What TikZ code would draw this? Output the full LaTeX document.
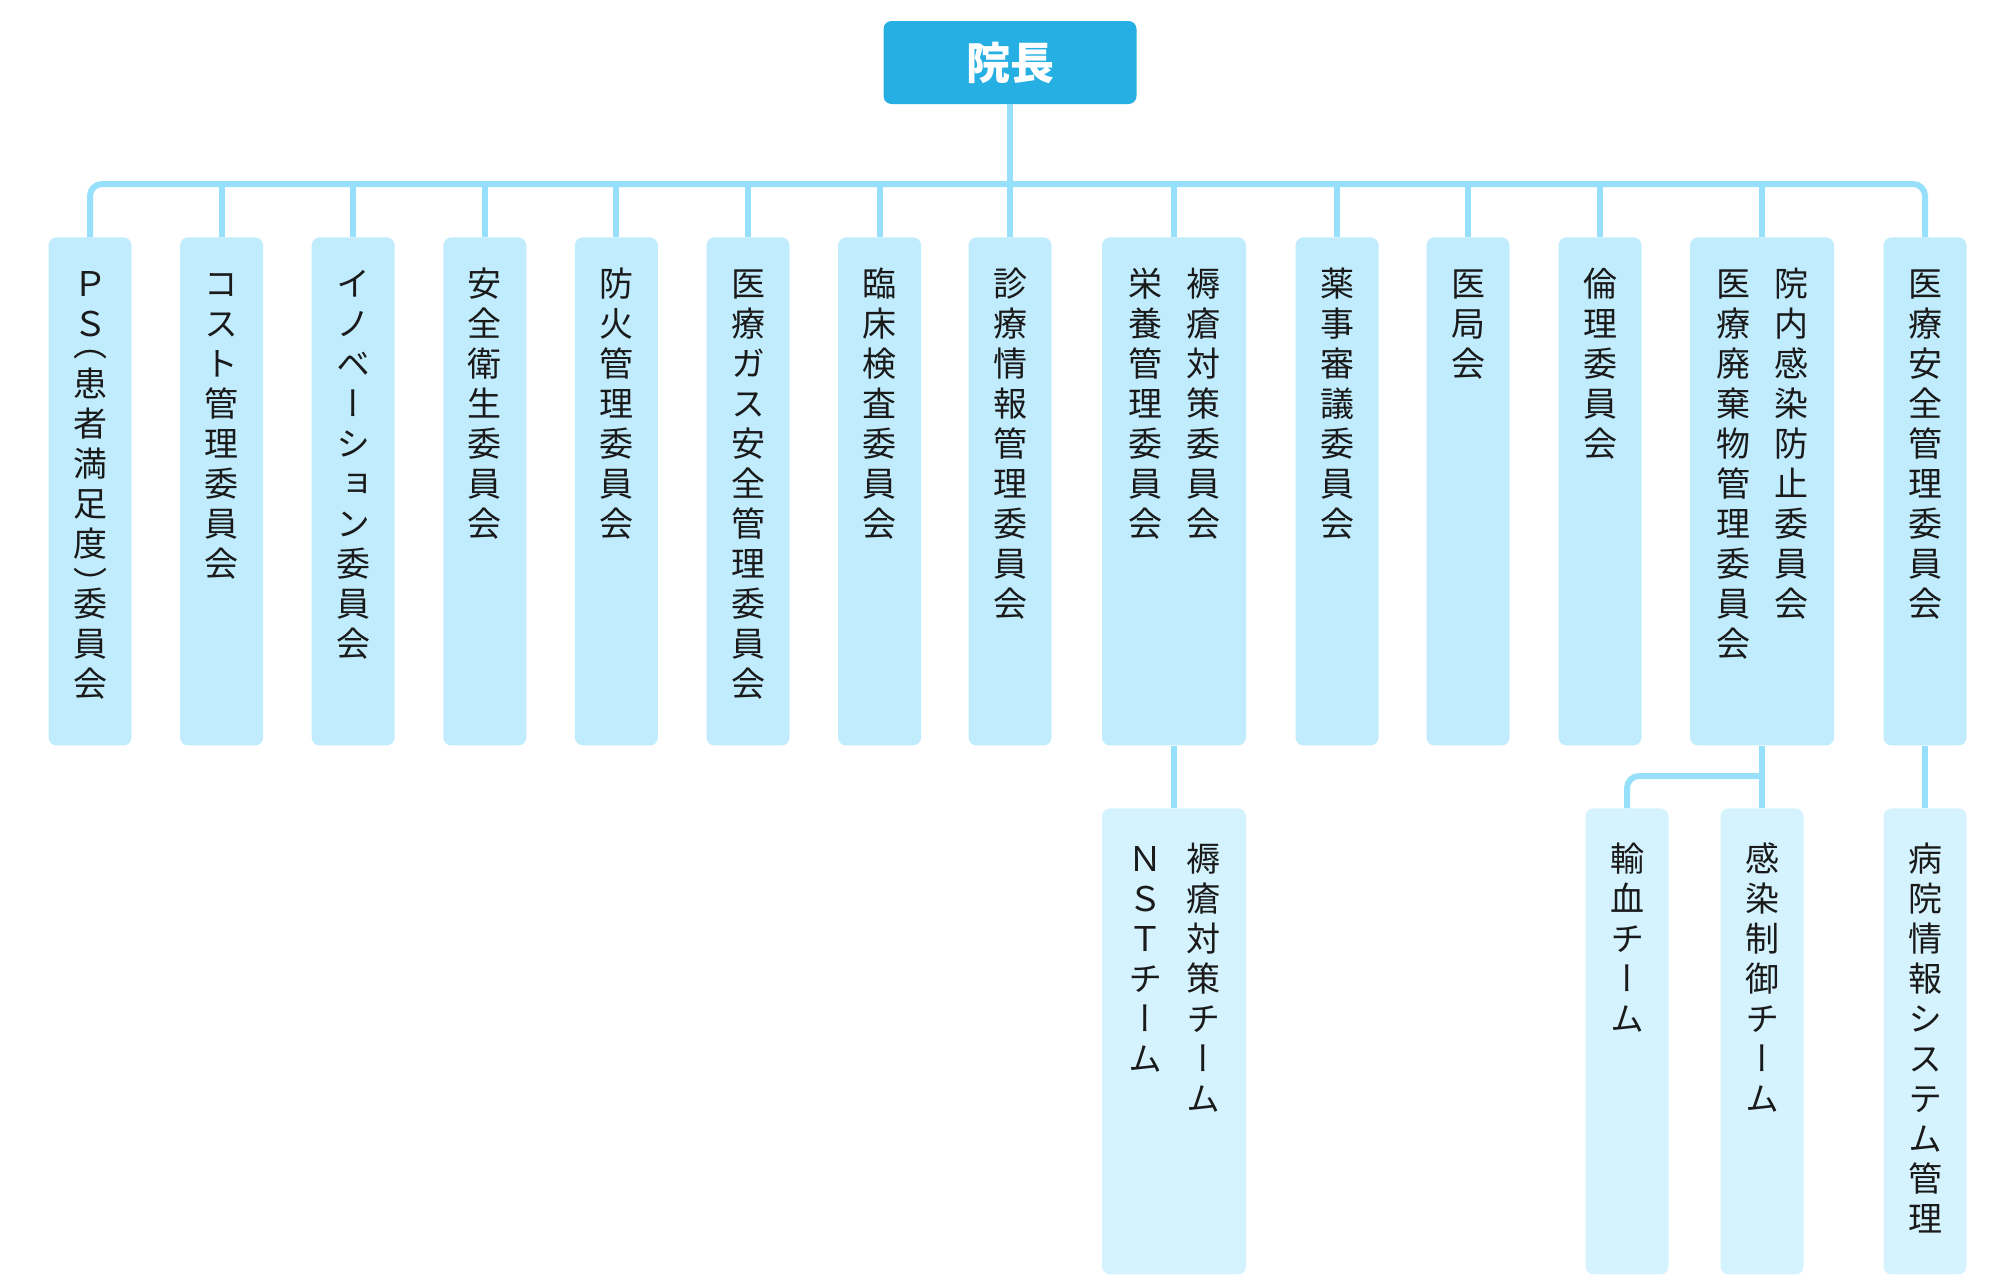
\documentclass[tikz,border=0pt]{standalone}
\usepackage{fontspec}
\usepackage{tikz}
\newfontfamily\jpfont{Noto Sans CJK JP}
\newfontfamily\tatefont[RawFeature=+vert]{Noto Sans CJK JP}

\definecolor{chiefblue}{HTML}{25AFE3}
\definecolor{boxone}{HTML}{C0ECFD}
\definecolor{boxtwo}{HTML}{D4F3FE}
\definecolor{linkblue}{HTML}{96E0FC}
\definecolor{ink}{HTML}{1A1A1A}

% vertical (tate) text: one character per line
\makeatletter
\newcommand\tateopen{}
\newcommand\tateclose{}
\def\tate@o{\tateopen}
\def\tate@k{\tateclose}
\def\tate@put{%
  \ifx\tate@c\tate@o
    \vskip-10pt\hbox to 17pt{\hss（\hss}%
  \else\ifx\tate@c\tate@k
    \hbox to 17pt{\hss）\hss}\vskip-10pt
  \else
    \hbox to 17pt{\hss\tate@c\hss}%
  \fi\fi}
\newcommand\tate[1]{\vtop{\tatefont\fontsize{17pt}{20pt}\selectfont
  \lineskiplimit=-\maxdimen
  \@tfor\tate@c:=#1\do{\tate@put}}}
\makeatother

\tikzset{
  chief/.style={fill=chiefblue,rounded corners=4pt,minimum width=126.5pt,minimum height=41.5pt,
    inner sep=0pt,text=white,font=\jpfont\bfseries\fontsize{22pt}{26pt}\selectfont},
  iinkai/.style={fill=boxone,rounded corners=4pt,minimum width=41.5pt,inner sep=0pt,
    anchor=north,text=ink,text height=29.5pt,text depth=224.5pt},
  wide/.style={minimum width=72pt},
  team/.style={iinkai,fill=boxtwo,text height=31.5pt,text depth=201.5pt},
  link/.style={draw=linkblue,line width=3pt}
}

\begin{document}
\begin{tikzpicture}[x=0.5pt,y=-0.5pt]
\useasboundingbox (0,0) rectangle (2000,1280);
%[top]
\path (1010,62.5) node (inchou) [chief] {院長};
\coordinate (bus) at (1010,184);
%[committees]
\path (90,237) node (ps) [iinkai] {\tate{ＰＳ\tateopen 患者満足度\tateclose 委員会}};
\path (221.6,237) node (cost) [iinkai] {\tate{コスト管理委員会}};
\path (353.2,237) node (innov) [iinkai] {\tate{イノベーション委員会}};
\path (484.8,237) node (eisei) [iinkai] {\tate{安全衛生委員会}};
\path (616.4,237) node (bouka) [iinkai] {\tate{防火管理委員会}};
\path (748,237) node (gas) [iinkai] {\tate{医療ガス安全管理委員会}};
\path (879.6,237) node (rinsho) [iinkai] {\tate{臨床検査委員会}};
\path (1010,237) node (shinryo) [iinkai] {\tate{診療情報管理委員会}};
\path (1174,237) node (joku) [iinkai,wide] {\tate{栄養管理委員会}\hspace{12pt}\tate{褥瘡対策委員会}};
\path (1337,237) node (yakuji) [iinkai] {\tate{薬事審議委員会}};
\path (1468,237) node (ikyoku) [iinkai] {\tate{医局会}};
\path (1600,237) node (rinri) [iinkai] {\tate{倫理委員会}};
\path (1762,237) node (kansen) [iinkai,wide] {\tate{医療廃棄物管理委員会}\hspace{12pt}\tate{院内感染防止委員会}};
\path (1925,237) node (anzen) [iinkai] {\tate{医療安全管理委員会}};
%[teams]
\path (1174,808) node (nst) [team,wide] {\tate{ＮＳＴチーム}\hspace{12pt}\tate{褥瘡対策チーム}};
\path (1627,808) node (yuketsu) [team] {\tate{輸血チーム}};
\path (1762,808) node (seigyo) [team] {\tate{感染制御チーム}};
\path (1925,808) node (joho) [team] {\tate{病院情報システム管理}};
\coordinate (fork) at (1762,776);

\draw [link] (inchou.south) to (bus);
\draw [link,rounded corners=6pt] (ps.north) |- (bus) -| (anzen.north);
\foreach \n in {cost,innov,eisei,bouka,gas,rinsho,shinryo,joku,yakuji,ikyoku,rinri,kansen}
  \draw [link] (\n.north) to (\n.north |- bus);
\draw [link] (joku) to (nst);
\draw [link] (kansen) to (seigyo);
\draw [link,rounded corners=6pt] (fork) -| (yuketsu.north);
\draw [link] (anzen) to (joho);
\end{tikzpicture}
\end{document}
